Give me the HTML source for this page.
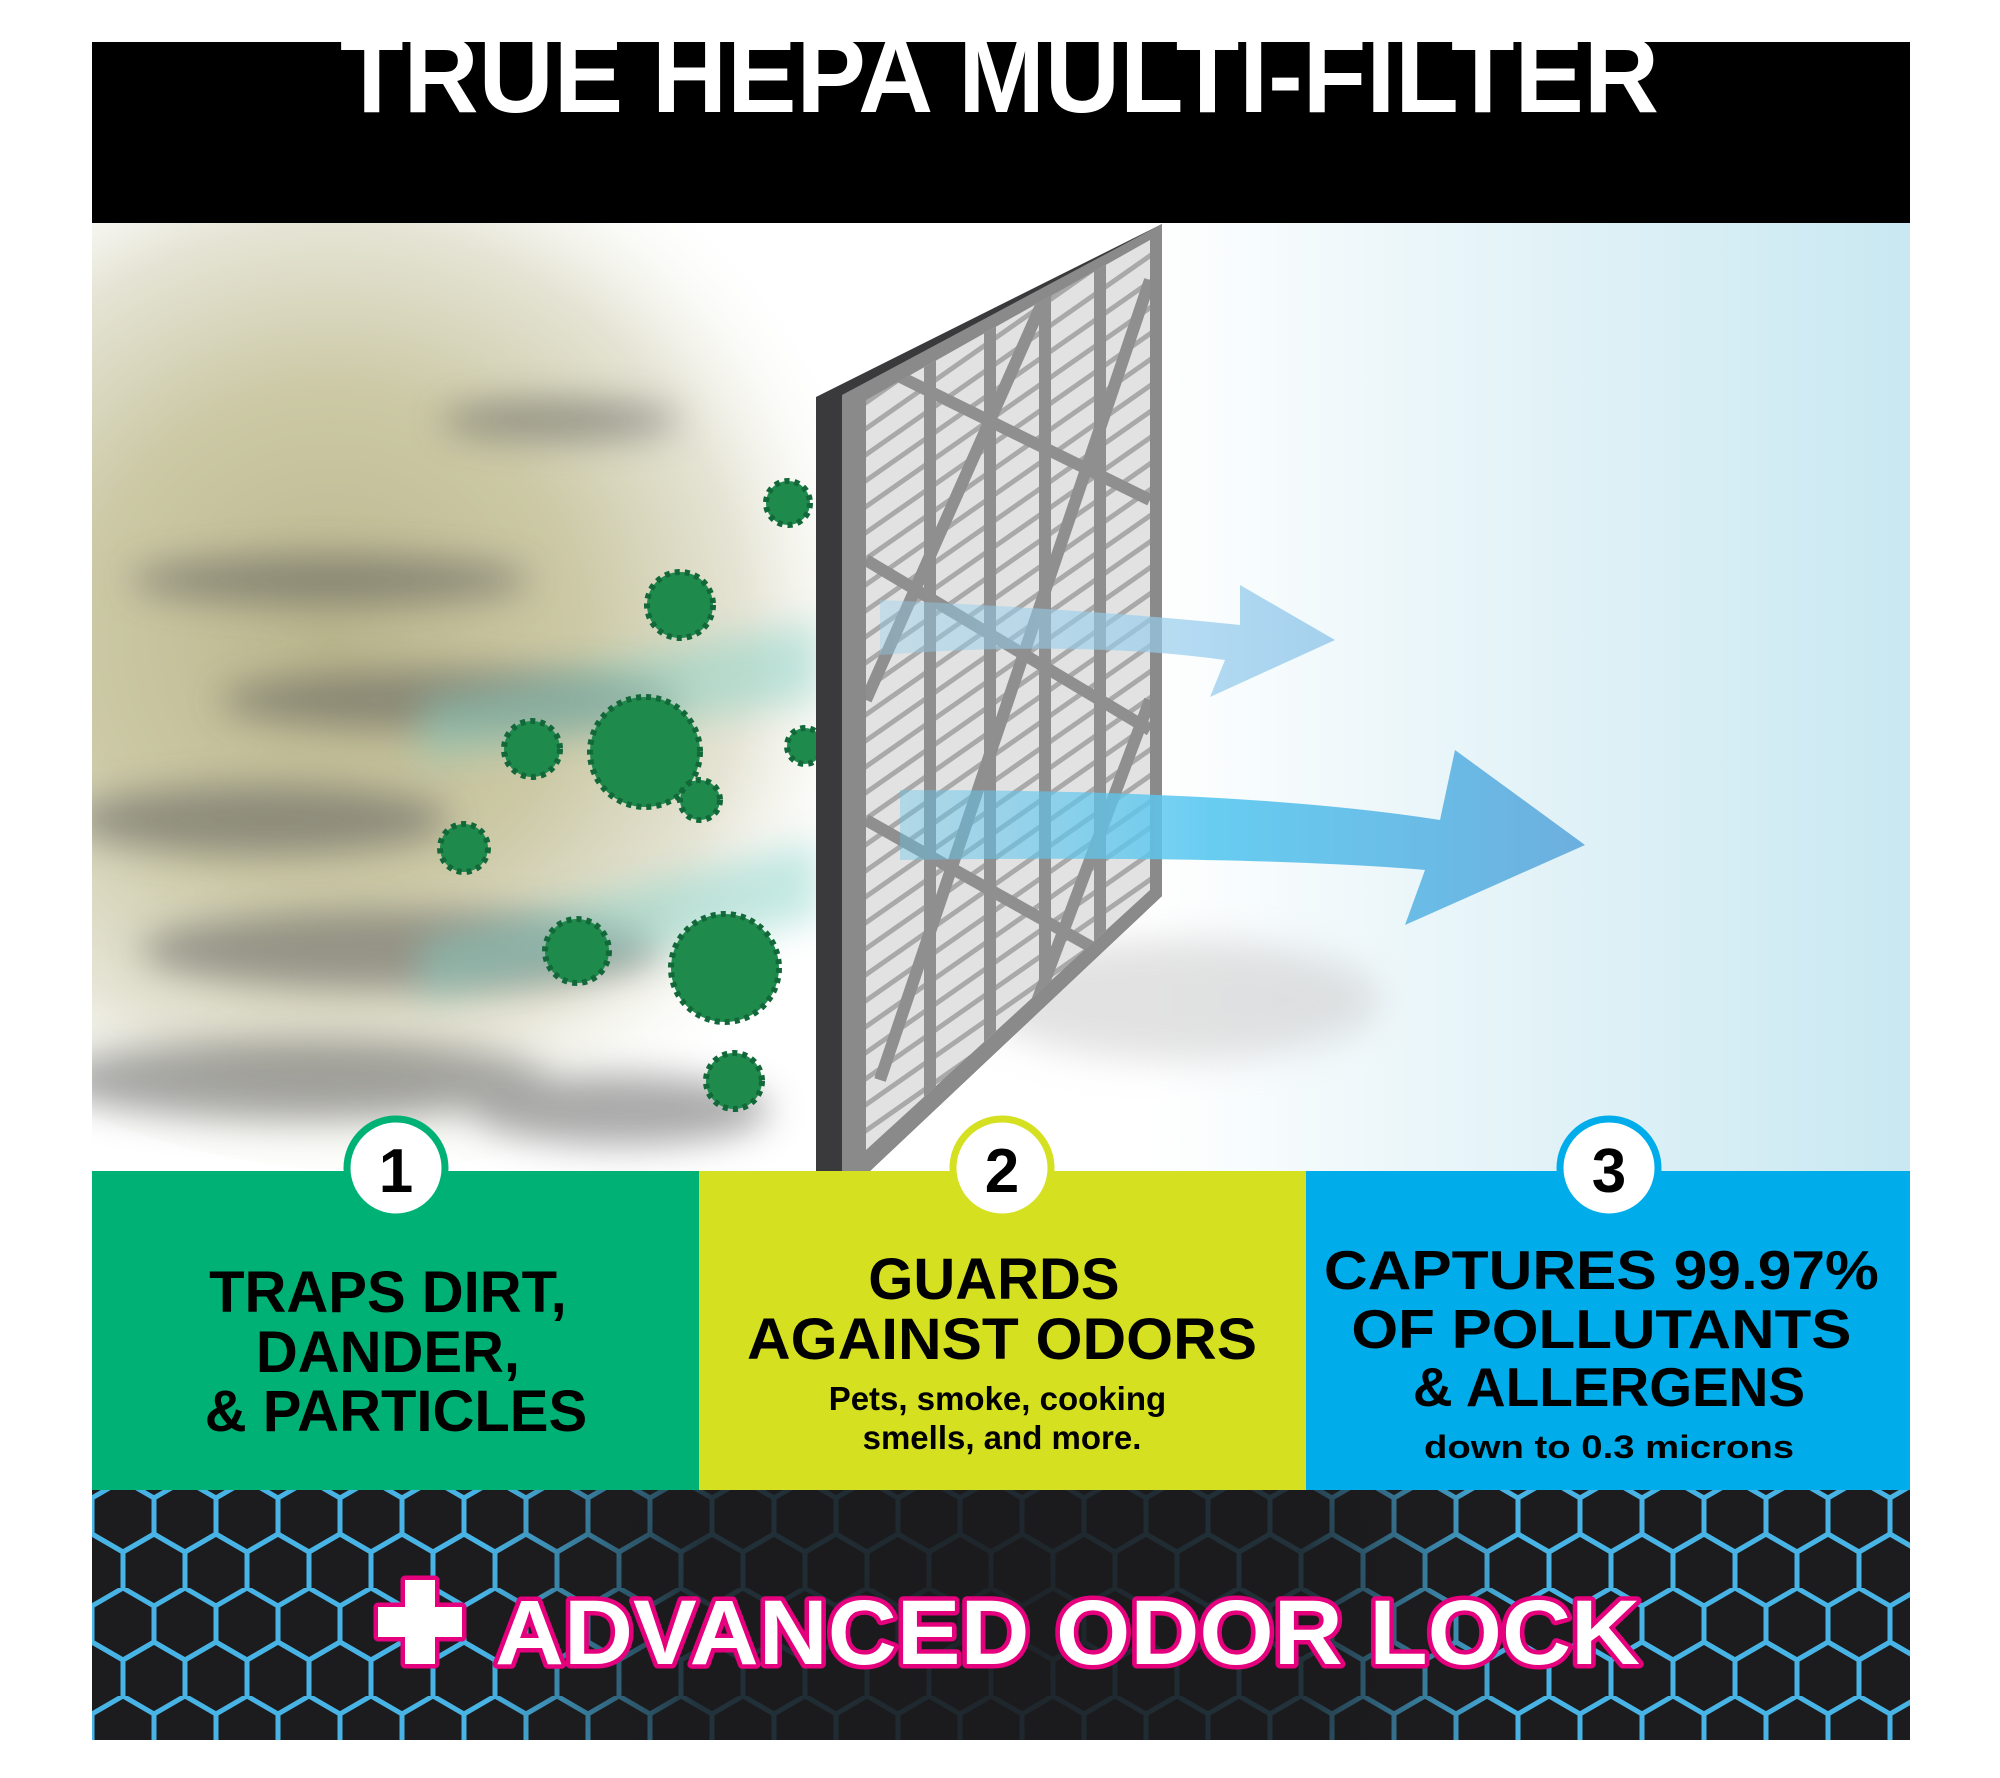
<!DOCTYPE html>
<html><head><meta charset="utf-8"><style>
html,body{margin:0;padding:0;background:#fff;}
svg{display:block}
text{font-family:"Liberation Sans",sans-serif;}
</style></head><body>
<svg width="2000" height="1778" viewBox="0 0 2000 1778" xmlns="http://www.w3.org/2000/svg">
<defs>
<radialGradient id="smoke" cx="330" cy="640" r="560" gradientUnits="userSpaceOnUse">
<stop offset="0" stop-color="#b9b58c"/><stop offset="0.45" stop-color="#ccc9a6"/><stop offset="0.75" stop-color="#e6e5d6"/><stop offset="1" stop-color="#fbfbf8" stop-opacity="0"/>
</radialGradient>
<linearGradient id="sky" x1="1150" y1="0" x2="1910" y2="0" gradientUnits="userSpaceOnUse">
<stop offset="0" stop-color="#ffffff"/><stop offset="0.4" stop-color="#e8f5f9"/><stop offset="1" stop-color="#c9e8f1"/>
</linearGradient>
<linearGradient id="arr" x1="900" y1="0" x2="1590" y2="0" gradientUnits="userSpaceOnUse">
<stop offset="0" stop-color="#5fc6ee" stop-opacity="0.4"/><stop offset="0.45" stop-color="#5bc8f0"/><stop offset="1" stop-color="#62a9dc"/>
</linearGradient>
<linearGradient id="arr2" x1="880" y1="0" x2="1340" y2="0" gradientUnits="userSpaceOnUse">
<stop offset="0" stop-color="#8fd0ef" stop-opacity="0.4"/><stop offset="1" stop-color="#9cccec"/>
</linearGradient>
<pattern id="slats" width="34" height="26" patternUnits="userSpaceOnUse" patternTransform="skewY(-35)">
<rect width="34" height="26" fill="#e2e2e2"/><rect y="18" width="34" height="6" fill="#a9a9a9"/>
</pattern>
<pattern id="hex" width="62" height="108" patternUnits="userSpaceOnUse" x="92" y="1480">
<path d="M0 18 L31 0 L62 18 L62 54 L31 72 L0 54 Z M31 72 L31 108" fill="none" stroke="#48b4e6" stroke-width="5"/>
<path d="M31 72 L62 54 M31 72 L0 54" fill="none" stroke="#48b4e6" stroke-width="5"/>
</pattern>
<radialGradient id="dark" cx="1000" cy="1620" r="520" gradientUnits="userSpaceOnUse">
<stop offset="0" stop-color="#1b1b1d" stop-opacity="0.95"/><stop offset="0.6" stop-color="#1b1b1d" stop-opacity="0.85"/><stop offset="1" stop-color="#1b1b1d" stop-opacity="0"/>
</radialGradient>
<filter id="blur" x="-50%" y="-50%" width="200%" height="200%"><feGaussianBlur stdDeviation="18"/></filter>
<clipPath id="img"><rect x="92" y="223" width="1818" height="950"/></clipPath>
<clipPath id="band"><rect x="92" y="1490" width="1818" height="250"/></clipPath>
<clipPath id="inner"><polygon points="866,400 1150,240 1150,890 866,1150"/></clipPath>
</defs>

<rect x="92" y="42" width="1818" height="181" fill="#000"/>
<svg x="92" y="42" width="1818" height="181" viewBox="92 42 1818 181">
<text x="340" y="112" font-size="108" font-weight="bold" fill="#fff" textLength="1319" lengthAdjust="spacingAndGlyphs">TRUE HEPA MULTI-FILTER</text>
</svg>

<g clip-path="url(#img)">
<rect x="92" y="223" width="1818" height="950" fill="#ffffff"/>
<rect x="1100" y="223" width="810" height="950" fill="url(#sky)"/>
<ellipse cx="360" cy="650" rx="600" ry="520" fill="url(#smoke)"/>
<g filter="url(#blur)" opacity="0.5" fill="#555">
<ellipse cx="330" cy="580" rx="200" ry="25"/>
<ellipse cx="450" cy="700" rx="230" ry="30"/>
<ellipse cx="260" cy="820" rx="190" ry="35"/>
<ellipse cx="400" cy="950" rx="260" ry="40"/>
<ellipse cx="300" cy="1080" rx="250" ry="40"/>
<ellipse cx="620" cy="1110" rx="150" ry="35"/>
<ellipse cx="560" cy="420" rx="120" ry="20"/>
</g>
<g filter="url(#blur)" opacity="0.45" fill="#7fd0c6">
<polygon points="420,700 820,620 820,700 420,760"/>
<polygon points="420,940 820,840 820,920 420,1000"/>
</g>
<g fill="#1e8a4c" stroke="#13683a" stroke-width="6" stroke-dasharray="5 5">
<circle cx="788" cy="503" r="22"/>
<circle cx="680" cy="605" r="33"/>
<circle cx="645" cy="752" r="55"/>
<circle cx="532" cy="749" r="28"/>
<circle cx="700" cy="800" r="20"/>
<circle cx="464" cy="848" r="24"/>
<circle cx="577" cy="951" r="32"/>
<circle cx="725" cy="968" r="54"/>
<circle cx="734" cy="1081" r="28"/>
<circle cx="805" cy="746" r="18"/>
</g>
<ellipse cx="1180" cy="1000" rx="200" ry="60" fill="#cfcfcf" filter="url(#blur)" opacity="0.6"/>
<polygon points="816,397 1162,224 1162,896 870,1171 816,1171" fill="#3a3a3c"/>
<polygon points="842,395 1162,224 1162,896 870,1171 842,1171" fill="#8a8a8a"/>
<polygon points="866,400 1150,240 1150,890 866,1150" fill="url(#slats)"/>
<g stroke="#8f8f8f" stroke-width="12" clip-path="url(#inner)">
<line x1="930" y1="300" x2="930" y2="1150"/>
<line x1="990" y1="300" x2="990" y2="1150"/>
<line x1="1045" y1="250" x2="1045" y2="1100"/>
<line x1="1100" y1="230" x2="1100" y2="1000"/>
<line x1="866" y1="560" x2="1150" y2="730"/>
<line x1="866" y1="820" x2="1150" y2="980"/>
<line x1="866" y1="360" x2="1150" y2="500"/>
<line x1="880" y1="1080" x2="1150" y2="280"/>
<line x1="866" y1="700" x2="1070" y2="240"/>
<line x1="1000" y1="1100" x2="1150" y2="700"/>
</g>
<path d="M880 600 Q1100 610 1240 625 L1240 585 L1335 640 L1210 697 L1225 660 Q1080 640 880 655 Z" fill="url(#arr2)" opacity="0.9"/>
<path d="M900 790 Q1250 790 1440 820 L1455 750 L1585 845 L1405 925 L1425 870 Q1250 855 900 860 Z" fill="url(#arr)" opacity="0.92"/>
</g>

<rect x="92" y="1171" width="607" height="320" fill="#00b176"/>
<rect x="699" y="1171" width="607" height="320" fill="#d5e021"/>
<rect x="1306" y="1171" width="604" height="320" fill="#00adea"/>
<g font-weight="bold" text-anchor="middle">
<circle cx="396" cy="1168" r="49" fill="#fff" stroke="#00b176" stroke-width="7"/>
<circle cx="1002" cy="1168" r="49" fill="#fff" stroke="#d5e021" stroke-width="7"/>
<circle cx="1609" cy="1168" r="49" fill="#fff" stroke="#00adea" stroke-width="7"/>
<text x="396" y="1192" font-size="62">1</text>
<text x="1002" y="1192" font-size="62">2</text>
<text x="1609" y="1192" font-size="62">3</text>
<text font-size="58" fill="#000">
<tspan x="396" y="1312">TRAPS DIRT,</tspan>
<tspan x="396" y="1372">DANDER,</tspan>
<tspan x="396" y="1431">&amp; PARTICLES</tspan>
</text>
<text font-size="58" fill="#000">
<tspan x="1002" y="1299">GUARDS</tspan>
<tspan x="1002" y="1359" textLength="510" lengthAdjust="spacingAndGlyphs">AGAINST ODORS</tspan>
</text>
<text font-size="33" fill="#000">
<tspan x="1002" y="1410">Pets, smoke, cooking</tspan>
<tspan x="1002" y="1449">smells, and more.</tspan>
</text>
<text font-size="55" fill="#000">
<tspan x="1609" y="1289" textLength="555" lengthAdjust="spacingAndGlyphs">CAPTURES 99.97%</tspan>
<tspan x="1609" y="1348" textLength="500" lengthAdjust="spacingAndGlyphs">OF POLLUTANTS</tspan>
<tspan x="1609" y="1406">&amp; ALLERGENS</tspan>
</text>
<text x="1609" y="1458" font-size="32" fill="#000" textLength="370" lengthAdjust="spacingAndGlyphs">down to 0.3 microns</text>
</g>

<g clip-path="url(#band)">
<rect x="92" y="1490" width="1818" height="250" fill="#1c1c1e"/>
<rect x="92" y="1490" width="1818" height="250" fill="url(#hex)"/>
<rect x="92" y="1490" width="1818" height="250" fill="url(#dark)"/>
</g>
<g font-weight="bold" stroke="#e5007d" stroke-width="9" paint-order="stroke" fill="#fff" stroke-linejoin="round">
<path d="M378 1607 h27 v-27 h30 v27 h27 v30 h-27 v27 h-30 v-27 h-27 z" />
<text x="495" y="1664" font-size="92" textLength="1145" lengthAdjust="spacingAndGlyphs">ADVANCED ODOR LOCK</text>
</g>
</svg>
</body></html>
